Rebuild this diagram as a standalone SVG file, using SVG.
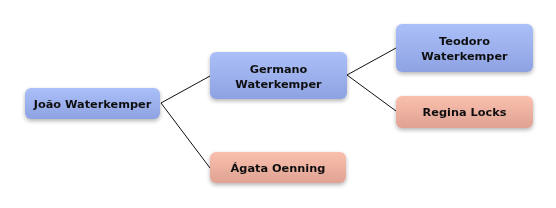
<svg xmlns="http://www.w3.org/2000/svg" width="556" height="208" viewBox="0 0 556 208">
<defs>
<linearGradient id="blue" x1="0" y1="0" x2="0" y2="1">
<stop offset="0" stop-color="#abc0f8"/>
<stop offset="1" stop-color="#8ea2e2"/>
</linearGradient>
<linearGradient id="salmon" x1="0" y1="0" x2="0" y2="1">
<stop offset="0" stop-color="#fac0ad"/>
<stop offset="1" stop-color="#dfa293"/>
</linearGradient>
<filter id="sh" x="-20%" y="-30%" width="140%" height="170%">
<feGaussianBlur in="SourceAlpha" stdDeviation="2.2"/>
<feOffset dx="0" dy="2" result="b"/>
<feComponentTransfer><feFuncA type="linear" slope="0.3"/></feComponentTransfer>
<feMerge><feMergeNode/><feMergeNode in="SourceGraphic"/></feMerge>
</filter>
</defs>
<style>
.box{filter:url(#sh);}
.b{fill:url(#blue);}
.s{fill:url(#salmon);}
text{font-family:"DejaVu Sans",sans-serif;font-weight:bold;font-size:11.3px;fill:#111;text-anchor:middle;}
.c{stroke:#111;stroke-width:1;fill:none;}
</style>
<rect width="556" height="208" fill="#fff"/>
<g id="connectors">
<line class="c" x1="161" y1="103" x2="210" y2="76"/>
<line class="c" x1="161" y1="103" x2="210" y2="168"/>
<line class="c" x1="347" y1="75" x2="396" y2="48"/>
<line class="c" x1="347" y1="75" x2="396" y2="111"/>
</g>
<g id="joao" class="box">
<rect class="b" x="25" y="88" width="135" height="31" rx="6"/>
<text x="92.5" y="107.5">João Waterkemper</text>
</g>
<g id="germano" class="box">
<rect class="b" x="210" y="52" width="137" height="47" rx="6"/>
<text x="278.5" y="73">Germano</text>
<text x="278.5" y="87.5">Waterkemper</text>
</g>
<g id="teodoro" class="box">
<rect class="b" x="396" y="24" width="137" height="48" rx="6"/>
<text x="464.5" y="45">Teodoro</text>
<text x="464.5" y="59.5">Waterkemper</text>
</g>
<g id="regina" class="box">
<rect class="s" x="396" y="96" width="137" height="32" rx="6"/>
<text x="464.5" y="116">Regina Locks</text>
</g>
<g id="agata" class="box">
<rect class="s" x="210" y="152" width="136" height="31" rx="6"/>
<text x="278" y="172">Ágata Oenning</text>
</g>
</svg>
